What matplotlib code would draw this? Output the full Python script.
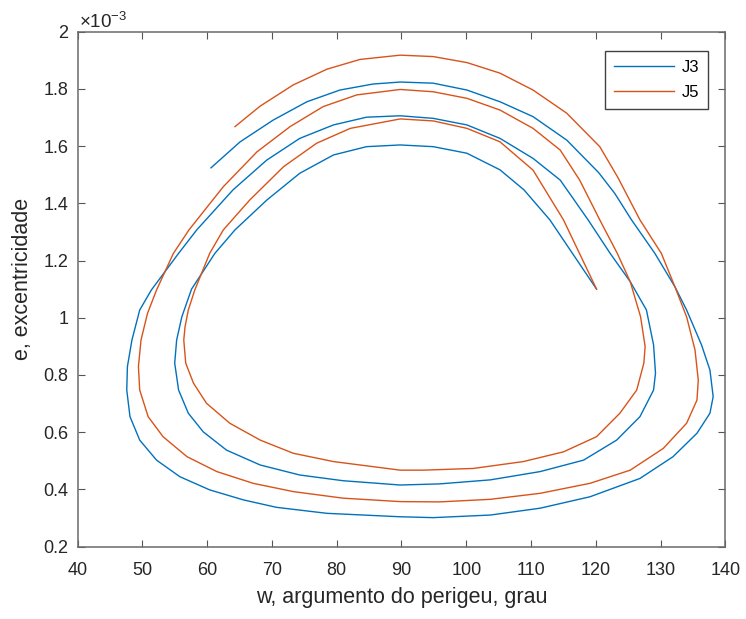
import matplotlib.pyplot as plt
from matplotlib.ticker import FixedLocator

plt.rcParams['font.family'] = ['Liberation Sans', 'DejaVu Sans']
plt.rcParams['mathtext.fontset'] = 'custom'
plt.rcParams['mathtext.rm'] = 'Liberation Sans'

# J3: argumento do perigeu (grau) e excentricidade (x 1e-3)
w_j3 = [120.1, 112.9, 108.9, 105.2, 100.1, 94.9, 89.8, 84.6, 79.5, 74.3, 69.2,
        64.3, 61.2, 57.6, 56.1, 55.3, 55.0, 55.6, 57.1, 59.4, 63.0, 68.2, 74.3, 81.0,
        89.8, 95.9, 103.7, 111.4, 118.1, 123.2, 126.8, 128.9, 129.2, 128.9, 127.8, 125.3,
        122.2, 118.8, 114.5, 110.3, 105.2, 100.1, 94.9, 89.8, 84.6, 79.5, 74.3, 69.2,
        64.0, 58.4, 55.6, 51.4, 49.6, 48.4, 47.7, 47.6, 48.1, 49.6, 52.2, 55.8, 60.4,
        65.6, 70.7, 78.5, 89.8, 94.9, 103.7, 111.4, 119.1, 126.8, 131.9, 135.6, 137.6,
        138.1, 137.6, 136.3, 134.0, 132.2, 129.1, 125.5, 122.9, 120.4, 115.5, 110.3,
        105.2, 100.1, 94.9, 89.8, 85.6, 80.5, 75.4, 70.2, 65.1, 60.6]
e_j3 = [1.100, 1.342, 1.447, 1.517, 1.575, 1.598, 1.604, 1.598, 1.569, 1.505, 1.411,
        1.307, 1.225, 1.100, 1.003, 0.922, 0.841, 0.747, 0.666, 0.601, 0.537, 0.485, 0.450,
        0.430, 0.415, 0.419, 0.433, 0.462, 0.502, 0.572, 0.654, 0.747, 0.806, 0.905, 1.027,
        1.126, 1.225, 1.342, 1.481, 1.557, 1.627, 1.674, 1.697, 1.706, 1.701, 1.674, 1.627,
        1.551, 1.447, 1.307, 1.225, 1.097, 1.027, 0.922, 0.829, 0.747, 0.654, 0.572, 0.502,
        0.444, 0.398, 0.363, 0.337, 0.316, 0.304, 0.301, 0.310, 0.334, 0.374, 0.438, 0.514,
        0.596, 0.666, 0.724, 0.817, 0.905, 1.027, 1.108, 1.225, 1.342, 1.435, 1.508, 1.621,
        1.703, 1.755, 1.796, 1.820, 1.824, 1.817, 1.796, 1.755, 1.691, 1.615, 1.524]

# J5
w_j5 = [120.1, 115.0, 110.3, 105.2, 100.1, 94.9, 89.8, 82.1, 76.9, 71.8, 66.6,
        62.5, 60.4, 58.1, 57.1, 56.6, 56.4, 56.7, 57.9, 59.9, 63.5, 68.2, 73.3, 79.5,
        89.8, 93.4, 101.1, 108.8, 115.0, 120.1, 123.7, 126.3, 127.4, 127.6, 126.9, 125.3,
        123.3, 120.6, 117.5, 114.5, 110.3, 105.2, 100.1, 94.9, 89.8, 83.1, 77.9, 72.8,
        67.7, 62.5, 57.2, 54.8, 52.2, 50.8, 49.8, 49.4, 49.6, 50.9, 53.2, 56.9, 61.5,
        67.1, 73.3, 81.0, 89.8, 95.9, 103.7, 111.4, 119.1, 125.3, 130.4, 134.0, 135.6,
        135.8, 135.3, 134.0, 132.2, 130.1, 126.8, 123.4, 120.6, 115.5, 110.3, 105.2,
        100.1, 94.9, 89.8, 83.6, 78.5, 73.3, 68.2, 64.3]
e_j5 = [1.100, 1.342, 1.516, 1.615, 1.662, 1.688, 1.695, 1.662, 1.610, 1.528, 1.412,
        1.307, 1.225, 1.097, 1.027, 0.969, 0.922, 0.841, 0.771, 0.701, 0.631, 0.572, 0.526,
        0.497, 0.467, 0.467, 0.473, 0.497, 0.531, 0.584, 0.666, 0.747, 0.841, 0.899, 1.003,
        1.126, 1.225, 1.342, 1.481, 1.586, 1.662, 1.726, 1.767, 1.790, 1.798, 1.779, 1.738,
        1.668, 1.580, 1.458, 1.307, 1.225, 1.097, 1.015, 0.922, 0.829, 0.747, 0.654, 0.584,
        0.514, 0.462, 0.421, 0.392, 0.369, 0.357, 0.356, 0.365, 0.386, 0.421, 0.467, 0.543,
        0.631, 0.712, 0.782, 0.887, 1.003, 1.108, 1.225, 1.342, 1.490, 1.598, 1.715, 1.796,
        1.855, 1.892, 1.913, 1.918, 1.903, 1.869, 1.814, 1.740, 1.668]

x_ticks = [40, 50, 60, 70, 80, 90, 100, 110, 120, 130, 140]
y_ticks = [0.2, 0.4, 0.6, 0.8, 1.0, 1.2, 1.4, 1.6, 1.8, 2.0]
y_ticklabels = ['0.2', '0.4', '0.6', '0.8', '1', '1.2', '1.4', '1.6', '1.8', '2']

fig = plt.figure(figsize=(7.46, 6.19), dpi=100)
ax = fig.add_axes([0.1039, 0.1171, 0.8686, 0.8317])

ax.plot(w_j3, e_j3, color='#0072BD', lw=1.0, label='J3')
ax.plot(w_j5, e_j5, color='#D95319', lw=1.0, label='J5')

ax.set_xlim(40, 140)
ax.set_ylim(0.2, 2.0)
ax.xaxis.set_major_locator(FixedLocator(x_ticks))
ax.set_yticks(y_ticks)
ax.set_yticklabels(y_ticklabels)

for s in ax.spines.values():
    s.set_color('#6a6a6a')
    s.set_linewidth(1.1)
ax.tick_params(direction='in', length=5, width=0.8, color='#555555',
               top=True, right=True, labelsize=13, labelcolor='#262626')
ax.tick_params(axis='x', pad=11)
ax.tick_params(axis='y', pad=6.5)

ax.text(0.003, 1.0, r'$\mathregular{\times10^{-3}}$', transform=ax.transAxes,
        fontsize=13.5, color='#262626', va='bottom', ha='left')

ax.set_xlabel('w, argumento do perigeu, grau', fontsize=15.5, color='#262626')
ax.set_ylabel('e, excentricidade', fontsize=15.5, color='#262626')
ax.xaxis.set_label_coords(0.5, -0.078)
ax.yaxis.set_label_coords(-0.069, 0.52)

leg = ax.legend(loc='upper right', bbox_to_anchor=(0.9735, 0.9625), borderaxespad=0,
                fontsize=12, handlelength=3.6, handletextpad=0.45, labelspacing=0.6,
                fancybox=False, framealpha=1, borderpad=0.55)
leg.get_frame().set_edgecolor('#404040')
leg.get_frame().set_linewidth(1.0)

fig.savefig('out.png', dpi=100)
